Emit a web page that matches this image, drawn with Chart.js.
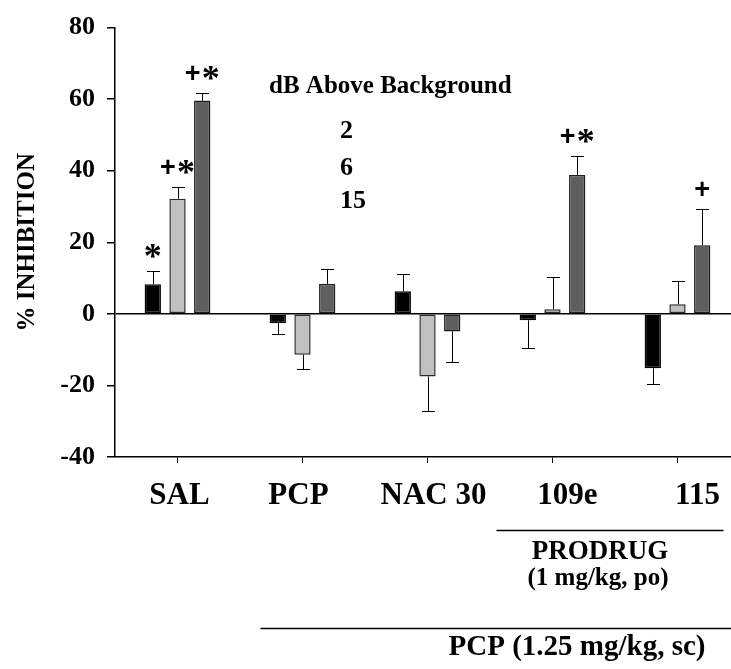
<!DOCTYPE html>
<html>
<head>
<meta charset="utf-8">
<script src="https://cdn.jsdelivr.net/npm/chart.js@4.4.0/dist/chart.umd.min.js"></script>
<style>
  html, body { margin: 0; padding: 0; background: #fff; overflow: hidden; }
  #wrap { position: relative; width: 740px; height: 669px; }
</style>
</head>
<body>
<div id="wrap"><canvas id="chart" width="740" height="669"></canvas></div>
<script>
const GROUPS = ['SAL', 'PCP', 'NAC 30', '109e', '115'];
const LEVELS = ['2', '6', '15'];

// % inhibition per group, one array per dB level
const DB2 = [8.3, -2.6, 6.3, -1.8, -15.2];
const DB6 = [32.2, -11.4, -17.5, 1.3, 2.7];
const DB15 = [59.6, 8.4, -4.9, 38.8, 19.2];

// SEM (drawn one-sided, away from zero)
const SEM2 = [3.7, 3.1, 4.9, 7.7, 4.3];
const SEM6 = [3.3, 4.0, 9.7, 9.0, 6.6];
const SEM15 = [2.2, 4.1, 8.6, 5.3, 10.2];

// significance marks
const SIG2 = ['*', '', '', '', ''];
const SIG6 = ['+*', '', '', '', ''];
const SIG15 = ['+*', '', '', '+*', '+'];

const Y_TICKS = [-40, -20, 0, 20, 40, 60, 80];

// group labels in the original sit a little off their tick marks
const LABEL_NUDGE = [2, -4, 6, 15, 20];

const SERIF = '"Liberation Serif", "Times New Roman", serif';
const SANS = '"Liberation Sans", Arial, sans-serif';

function drawSig(ctx, text, cx, cy) {
  // '+' in sans, '*' in large serif so both sit centred on the same line
  const parts = text.split('').map((ch) => {
    const font = ch === '+' ? `bold 27px ${SANS}` : `bold 36px ${SERIF}`;
    ctx.font = font;
    const m = ctx.measureText(ch);
    const w = m.actualBoundingBoxLeft + m.actualBoundingBoxRight;
    return { ch, font, m, w };
  });
  const gap = 3;
  const total = parts.reduce((s, p) => s + p.w, 0) + gap * (parts.length - 1);
  let x = cx - total / 2;
  parts.forEach((p) => {
    ctx.font = p.font;
    ctx.textAlign = 'left';
    ctx.textBaseline = 'alphabetic';
    const by = cy + (p.m.actualBoundingBoxAscent - p.m.actualBoundingBoxDescent) / 2;
    ctx.fillText(p.ch, x + p.m.actualBoundingBoxLeft, by);
    x += p.w + gap;
  });
}

const errorBars = {
  id: 'errorBars',
  afterDatasetsDraw(chart) {
    const { ctx } = chart;
    const ys = chart.scales.y;
    ctx.save();
    ctx.strokeStyle = '#000';
    ctx.fillStyle = '#000';
    ctx.lineWidth = 1;
    chart.data.datasets.forEach((ds, i) => {
      chart.getDatasetMeta(i).data.forEach((bar, j) => {
        const v = ds.data[j];
        const dir = v < 0 ? -1 : 1;
        const yEnd = Math.round(ys.getPixelForValue(v + dir * ds.sem[j])) + 0.5;
        const x = Math.round(bar.x) + 0.5;
        ctx.beginPath();
        ctx.moveTo(x, bar.y);
        ctx.lineTo(x, yEnd);
        ctx.moveTo(x - 6.5, yEnd);
        ctx.lineTo(x + 6.5, yEnd);
        ctx.stroke();
        if (ds.sig[j]) drawSig(ctx, ds.sig[j], bar.x, yEnd - 21);
      });
    });
    ctx.restore();
  },
};

const annotations = {
  id: 'annotations',
  afterDraw(chart) {
    const { ctx } = chart;
    const xs = chart.scales.x;
    ctx.save();
    ctx.fillStyle = '#000';
    ctx.strokeStyle = '#000';
    ctx.lineWidth = 1.5;

    // group labels under the axis
    ctx.textBaseline = 'middle';
    ctx.textAlign = 'center';
    ctx.font = `bold 31px ${SERIF}`;
    chart.data.labels.forEach((lab, i) => {
      ctx.fillText(lab, xs.getPixelForValue(i) + LABEL_NUDGE[i], 496);
    });

    // legend: title and level labels (no swatches in the original)
    ctx.textAlign = 'left';
    ctx.font = `bold 25px ${SERIF}`;
    ctx.fillText('dB Above Background', 269, 87);
    ctx.font = `bold 26px ${SERIF}`;
    [131, 168, 201].forEach((y, i) => ctx.fillText(chart.data.datasets[i].label, 340, y));

    // prodrug bracket
    const p1 = xs.getPixelForValue(3) - 56;
    const p2 = xs.getPixelForValue(4) + 46;
    ctx.beginPath();
    ctx.moveTo(p1, 530.5);
    ctx.lineTo(p2, 530.5);
    ctx.stroke();
    ctx.textAlign = 'center';
    ctx.font = `bold 27px ${SERIF}`;
    ctx.fillText('PRODRUG', 600, 552);
    ctx.font = `bold 25px ${SERIF}`;
    ctx.fillText('(1 mg/kg, po)', 598, 579);

    // PCP bracket
    const q1 = xs.getPixelForValue(1) - 42;
    ctx.beginPath();
    ctx.moveTo(q1, 628.5);
    ctx.lineTo(chart.width, 628.5);
    ctx.stroke();
    ctx.font = `bold 29px ${SERIF}`;
    ctx.fillText('PCP (1.25 mg/kg, sc)', 577, 648);
    ctx.restore();
  },
};

const bar = (label, data, sem, sig, fill, border) => ({
  label, data, sem, sig,
  backgroundColor: fill,
  borderColor: border,
  borderWidth: 1.5,
  borderSkipped: false,
  categoryPercentage: 0.593,
  barPercentage: 0.66,
});

new Chart(document.getElementById('chart'), {
  type: 'bar',
  data: {
    labels: GROUPS,
    datasets: [
      bar(LEVELS[0], DB2, SEM2, SIG2, '#000000', '#000000'),
      bar(LEVELS[1], DB6, SEM6, SIG6, '#c0c0c0', '#2a2a2a'),
      bar(LEVELS[2], DB15, SEM15, SIG15, '#5f5f5f', '#1e1e1e'),
    ],
  },
  plugins: [errorBars, annotations],
  options: {
    responsive: false,
    animation: false,
    layout: { padding: { top: 22, right: 0, left: 0, bottom: 0 } },
    plugins: { legend: { display: false }, tooltip: { enabled: false } },
    scales: {
      x: {
        grid: { drawOnChartArea: false, offset: false, tickLength: 6, color: '#000', tickColor: '#000' },
        border: { color: '#000', width: 1.5 },
        ticks: { display: false },
        afterFit: (s) => { s.height = 212; },
      },
      y: {
        min: -40,
        max: 80,
        afterBuildTicks: (s) => { s.ticks = Y_TICKS.map((v) => ({ value: v })); },
        grid: {
          color: (c) => (c.tick && c.tick.value === 0 ? '#000' : 'rgba(0,0,0,0)'),
          lineWidth: 1.5,
          tickColor: '#000',
          tickLength: 8,
        },
        border: { color: '#000', width: 1.5 },
        ticks: {
          color: '#000',
          font: { family: SERIF, size: 26, weight: 'bold' },
          padding: 12,
        },
        title: {
          display: true,
          text: '% INHIBITION',
          color: '#000',
          font: { family: SERIF, size: 25, weight: 'bold' },
          padding: { top: 13, bottom: 0 },
        },
        afterFit: (s) => { s.width = 115; },
      },
    },
  },
});
</script>
</body>
</html>
